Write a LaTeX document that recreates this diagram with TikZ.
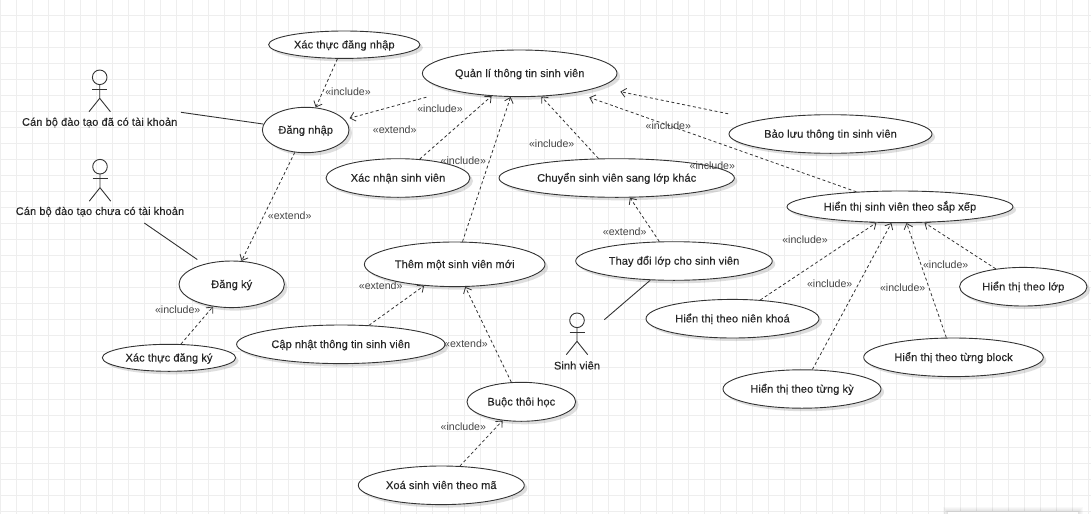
\documentclass[tikz,border=0pt]{standalone}
\usepackage{fontspec}
\setmainfont{Liberation Sans}
\newfontfamily\ucfont[FakeBold=0.2,LetterSpace=1]{Liberation Sans}
\usetikzlibrary{shapes.geometric,arrows.meta,shadows}
\definecolor{gridline}{HTML}{EEEEEE}
\definecolor{linegray}{HTML}{333333}
\definecolor{stereogray}{HTML}{444444}
\tikzset{
	usecase/.style={ellipse,draw=linegray,line width=.9pt,fill=white,inner sep=0pt,text=black!85,
		font=\ucfont\fontsize{11}{12}\selectfont,
		drop shadow={shadow xshift=3pt,shadow yshift=-3pt,opacity=.13,fill=black}},
	dep/.style={-{Straight Barb[length=5pt,width=9pt]},dash pattern=on 3pt off 2.5pt,draw=linegray,line width=.8pt},
	assoc/.style={draw=linegray,line width=.9pt},
	stereo/.style={font=\fontsize{10.6}{12}\selectfont,text=stereogray,inner sep=0pt},
	actorname/.style={font=\ucfont\fontsize{11}{12}\selectfont,text=black!85,inner sep=0pt}
}
\begin{document}
\begin{tikzpicture}[x=1pt,y=-1pt, line join=round]
	\useasboundingbox (0,0) rectangle (1091,514);
	\foreach \x in {0,16,...,1088}{
		\draw[gridline,line width=1pt] (\x,0)--(\x,514);}
	\foreach \y in {15,31,...,511}{
		\draw[gridline,line width=1pt] (0,\y)--(1091,\y);}
	\foreach \s in {1,...,5}{
		\fill[black,opacity=.025] (948-\s,512-\s) rectangle (1078+\s,514);}
	\fill[white] (948,512) rectangle (1078,514);
	\foreach \nm/\x/\y/\rx/\ry/\txt in {
		xtdn/344.3/44.7/75.7/13.7/Xác thực đăng nhập,
		dnhap/305.7/130/43.3/22.7/Đăng nhập,
		xnsv/398/178/72/19.3/Xác nhận sinh viên,
		qlsv/519.7/73.3/97.3/23.3/Quản lí thông tin sinh viên,
		cslop/616.7/178/117.7/19.3/Chuyển sinh viên sang lớp khác,
		tdlop/674/261/98.3/19.3/Thay đổi lớp cho sinh viên,
		tmsv/454.7/264.3/90.3/22.3/Thêm một sinh viên mới,
		dky/231.7/284.3/52.7/23.3/Đăng ký,
		xtdk/169/357.8/66.7/13.5/Xác thực đăng ký,
		cnsv/340.8/344.3/104.2/19.3/Cập nhật thông tin sinh viên,
		bthoc/521.3/401.8/54.3/19.5/Buộc thôi học,
		xoasv/441.3/485.3/83/19.3/Xoá sinh viên theo mã,
		htsx/900/206.8/113/15.8/Hiển thị sinh viên theo sắp xếp,
		htlop/1023.3/286.7/63.7/19.3/Hiển thị theo lớp,
		htblock/953.5/357.3/89.8/19.3/Hiển thị theo từng block,
		htnk/732.5/318.7/86.5/19.3/Hiển thị theo niên khoá,
		htky/802/389/79/19.2/Hiển thị theo từng kỳ,
		blsv/830.5/134/101.5/19.3/Bảo lưu thông tin sinh viên}{
		\node[usecase,minimum width=2*\rx pt,minimum height=2*\ry pt] (\nm) at (\x,\y) {\raisebox{-3.7pt}[0pt][0pt]{\txt}};}
	\foreach \x/\y in {99.7/77.3,100/166.7,577/320.3}{
		\draw[assoc] (\x,\y) circle[radius=7.3pt];
		\draw[assoc] (\x,\y+7.3)--(\x,\y+21)--(\x-10.7,\y+34.4);
		\draw[assoc] (\x,\y+21)--(\x+10.7,\y+34.4);
		\draw[assoc] (\x-7.5,\y+11.7)--(\x+7.5,\y+11.7);}
	\node[actorname] (cbtk) at (99.7,122.5) {Cán bộ đào tạo đã có tài khoản};
	\node[actorname] (cbct) at (100,211.7) {Cán bộ đào tạo chưa có tài khoản};
	\node[actorname] (sv) at (577,365.5) {Sinh viên};
	\coordinate (cbtkend) at (181,112.3);
	\coordinate (cbctend) at (144.3,223);
	\coordinate (svend) at (604.3,319.7);
	\draw[assoc] (cbtkend)--(dnhap.172);
	\draw[assoc,shorten >=8pt] (cbctend)--(dky.144.5);
	\draw[assoc] (svend)--(tdlop.219.6);
	\draw[dep] (xtdn.-116)--(dnhap.66);
	\draw[dep,shorten <=26pt,shorten >=5pt] (qlsv.194.8)--(dnhap.15);
	\draw[dep] (xnsv.41)--(qlsv.219.9);
	\draw[dep] (tmsv.71.4)--(qlsv.249.4);
	\draw[dep] (cslop.133.1)--(qlsv.-47.5);
	\draw[dep,shorten >=14pt] (htsx.161.2)--(qlsv.-19.3);
	\draw[dep,shorten <=31pt,shorten >=22pt] (blsv.169)--(qlsv.-10.8);
	\draw[dep] (tdlop.127.3)--(cslop.-56.2);
	\draw[dep] (dnhap.244.4)--(dky.67);
	\draw[dep] (xtdk.49.7)--(dky.230);
	\draw[dep] (cnsv.34.1)--(tmsv.215.3);
	\draw[dep] (bthoc.117.5)--(tmsv.-65);
	\draw[dep] (xoasv.46.3)--(bthoc.225.9);
	\draw[dep] (htnk.34)--(htsx.214);
	\draw[dep] (htky.62.6)--(htsx.242.4);
	\draw[dep] (htblock.110.2)--(htsx.-68.7);
	\draw[dep] (htlop.147.1)--(htsx.-33);
	\foreach \nm/\x/\y/\txt in {
		sa/348/91.7/«include»,
		sb/440/108.7/«include»,
		sc/394.7/129.7/«extend»,
		sd/463.3/160.7/«include»,
		se/551.7/143.7/«include»,
		sf/668.3/126/«include»,
		sg/712.3/165.7/«include»,
		sh/624.7/231.7/«extend»,
		si/289.7/215.7/«extend»,
		sj/805/239.7/«include»,
		sk/829.7/283.7/«include»,
		sl/902.7/287.7/«include»,
		sm/945.7/264.7/«include»,
		sn/177.7/309.7/«include»,
		so/380.7/285.7/«extend»,
		sp/466/344/«extend»,
		sq/463.3/426.7/«include»}{
		\node[stereo] (\nm) at (\x,\y) {\txt};}
\end{tikzpicture}
\end{document}
